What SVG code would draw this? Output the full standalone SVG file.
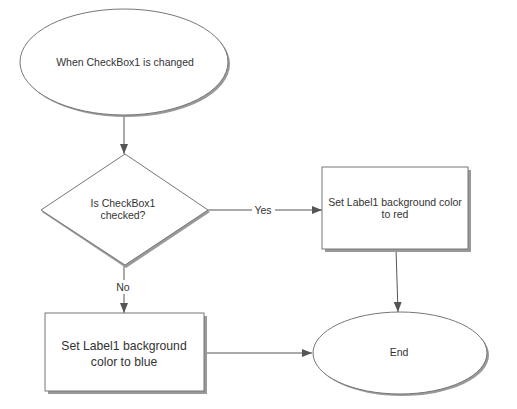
<svg xmlns="http://www.w3.org/2000/svg" width="517" height="409" viewBox="0 0 517 409">
<style>
.shape{fill:#fff;stroke:#777;stroke-width:1}
.shadow{fill:#999;stroke:none}
.t{font-family:"Liberation Sans",Arial,sans-serif;font-size:10.5px;fill:#333;text-anchor:middle;dominant-baseline:central}
.big{font-size:12.2px}
.c{fill:none;stroke:#555;stroke-width:1}
</style>
<defs>
<marker id="ah" markerWidth="10" markerHeight="8" refX="10" refY="4" orient="auto" markerUnits="userSpaceOnUse">
<path d="M0,0 L10,4 L0,8 Z" fill="#555"/>
</marker>
</defs>
<rect width="517" height="409" fill="#fff"/>
<g id="connectors">
<line class="c" x1="124" y1="116" x2="124" y2="154" marker-end="url(#ah)"/>
<line class="c" x1="208" y1="210" x2="252" y2="210"/>
<line class="c" x1="275" y1="210" x2="322" y2="210" marker-end="url(#ah)"/>
<text class="t" x="263" y="210">Yes</text>
<line class="c" x1="124" y1="266" x2="124" y2="280"/>
<line class="c" x1="124" y1="294" x2="124" y2="313" marker-end="url(#ah)"/>
<text class="t" x="123" y="287">No</text>
<line class="c" x1="396" y1="249" x2="398" y2="312" marker-end="url(#ah)"/>
<line class="c" x1="204" y1="353" x2="312" y2="353" marker-end="url(#ah)"/>
</g>
<g id="start">
<ellipse class="shadow" cx="126" cy="64" rx="104" ry="53"/>
<ellipse class="shape" cx="124" cy="62" rx="104" ry="53"/>
<text class="t" x="125" y="62">When CheckBox1 is changed</text>
</g>
<g id="decision">
<polygon class="shadow" points="126,156 210,212 126,268 42,212"/>
<polygon class="shape" points="125,154 208,210 125,265 41,210"/>
<text class="t" x="123" y="203">Is CheckBox1</text>
<text class="t" x="123" y="215">checked?</text>
</g>
<g id="setRed">
<rect class="shadow" x="325" y="170" width="146" height="82"/>
<rect class="shape" x="322" y="167" width="146" height="82"/>
<text class="t" x="395" y="202">Set Label1 background color</text>
<text class="t" x="395" y="214">to red</text>
</g>
<g id="setBlue">
<rect class="shadow" x="48" y="316" width="159" height="78"/>
<rect class="shape" x="45" y="313" width="159" height="78"/>
<text class="t big" x="124" y="346">Set Label1 background</text>
<text class="t big" x="124" y="362">color to blue</text>
</g>
<g id="end">
<ellipse class="shadow" cx="402" cy="355" rx="87" ry="41"/>
<ellipse class="shape" cx="400" cy="353" rx="87" ry="41"/>
<text class="t" x="399" y="352">End</text>
</g>
</svg>
